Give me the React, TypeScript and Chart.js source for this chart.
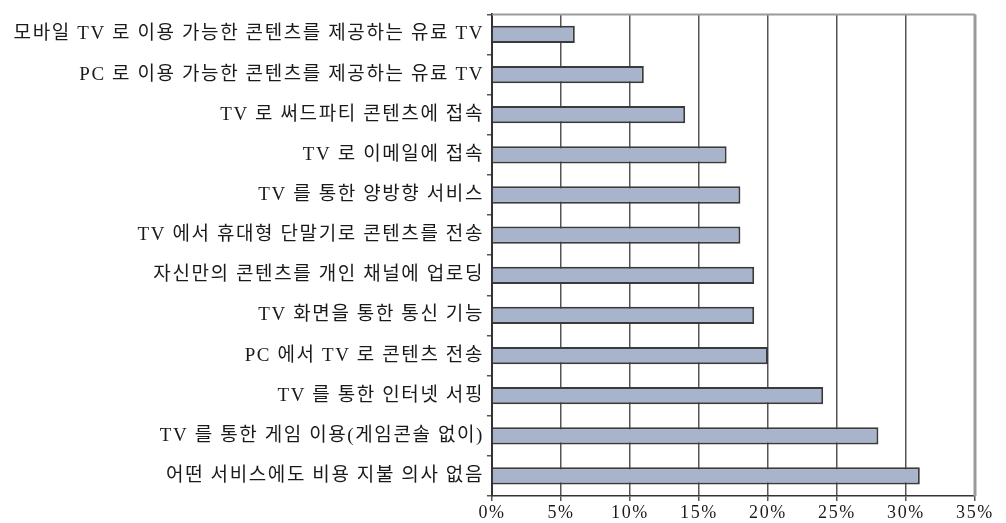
import React, { useEffect, useRef } from "react";
import { Chart, registerables } from "chart.js";

Chart.register(...registerables);

const categories = [
  "모바일 TV 로 이용 가능한 콘텐츠를 제공하는 유료 TV",
  "PC 로 이용 가능한 콘텐츠를 제공하는 유료 TV",
  "TV 로 써드파티 콘텐츠에 접속",
  "TV 로 이메일에 접속",
  "TV 를 통한 양방향 서비스",
  "TV 에서 휴대형 단말기로 콘텐츠를 전송",
  "자신만의 콘텐츠를 개인 채널에 업로딩",
  "TV 화면을 통한 통신 기능",
  "PC 에서 TV 로 콘텐츠 전송",
  "TV 를 통한 인터넷 서핑",
  "TV 를 통한 게임 이용(게임콘솔 없이)",
  "어떤 서비스에도 비용 지불 의사 없음",
];

const values = [6, 11, 14, 17, 18, 18, 19, 19, 20, 24, 28, 31];

const xMin = 0;
const xMax = 35;
const xStep = 5;

const FONT = "'Liberation Serif', 'Noto Sans CJK KR', serif";

const spacing = {
  id: "spacing",
  beforeLayout(chart: any) {
    chart.ctx.letterSpacing = "1.6px";
  },
  beforeDraw(chart: any) {
    chart.ctx.letterSpacing = "1.6px";
  },
};

const frame = {
  id: "frame",
  afterDraw(chart: any) {
    const { ctx, chartArea } = chart;
    ctx.save();
    ctx.strokeStyle = "#9a9a9a";
    ctx.lineWidth = 2;
    ctx.beginPath();
    ctx.moveTo(chartArea.left, chartArea.top);
    ctx.lineTo(chartArea.right, chartArea.top);
    ctx.stroke();
    ctx.lineWidth = 3;
    ctx.beginPath();
    ctx.moveTo(chartArea.right, chartArea.top);
    ctx.lineTo(chartArea.right, chartArea.bottom);
    ctx.stroke();
    ctx.restore();
  },
};

export default function App() {
  const ref = useRef<HTMLCanvasElement>(null);
  useEffect(() => {
    if (!ref.current) return;
    const chart = new Chart(ref.current, {
      type: "bar",
      data: {
        labels: categories,
        datasets: [
          {
            data: values,
            backgroundColor: "#A7B4CB",
            borderColor: "#3a3a3a",
            borderWidth: 2,
            barPercentage: 0.43,
            categoryPercentage: 1,
          },
        ],
      },
      plugins: [spacing, frame],
      options: {
        indexAxis: "y",
        animation: false,
        responsive: true,
        maintainAspectRatio: false,
        layout: { padding: { top: 7, right: 31, bottom: 0, left: 0 } },
        plugins: { legend: { display: false }, tooltip: { enabled: false } },
        scales: {
          x: {
            min: xMin,
            max: xMax,
            ticks: {
              stepSize: xStep,
              callback: (v: any) => v + "%",
              font: { family: FONT, size: 18 },
              color: "#1a1a1a",
              padding: 1,
              maxRotation: 0,
            },
            grid: { color: "#555", lineWidth: 1.5, tickLength: 5 },
            border: { display: true, color: "#333", width: 1.5 },
            afterFit: (s: any) => {
              s.height = 27;
            },
          },
          y: {
            ticks: {
              font: { family: FONT, size: 19 },
              color: "#1a1a1a",
              padding: 3,
              autoSkip: false,
            },
            grid: {
              drawOnChartArea: false,
              tickLength: 5,
              color: "#555",
              lineWidth: 1.5,
              offset: true,
            },
            border: { display: true, color: "#333", width: 2 },
            afterFit: (s: any) => {
              s.width = 492;
            },
          },
        },
      },
    });
    return () => chart.destroy();
  }, []);
  return (
    <div style={{ position: "absolute", left: 0, top: 0, width: 1006, height: 523, background: "#fff" }}>
      <canvas ref={ref} />
    </div>
  );
}
